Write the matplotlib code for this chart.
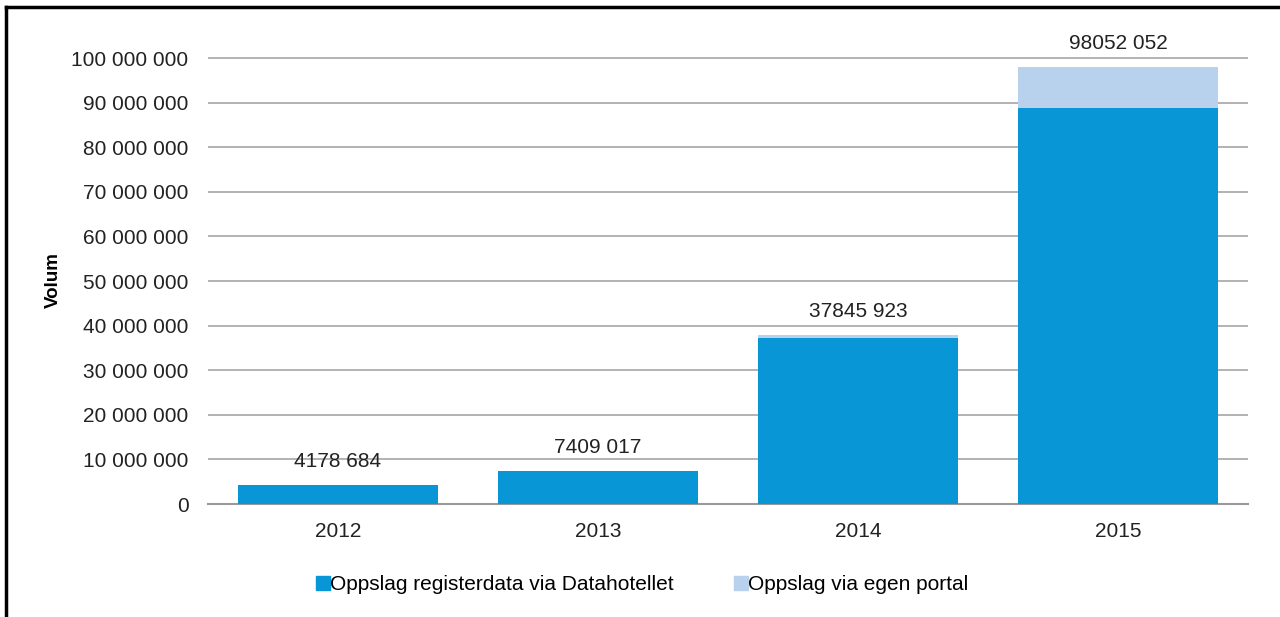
import matplotlib
matplotlib.use("Agg")
import matplotlib.pyplot as plt
from matplotlib.ticker import FuncFormatter
from matplotlib.lines import Line2D

plt.rcParams['font.family'] = ['Liberation Sans', 'DejaVu Sans']

years = ['2012', '2013', '2014', '2015']
datahotellet = [4178684, 7409017, 37245923, 88700000]
egen_portal = [0, 0, 600000, 9352052]
totals = [4178684, 7409017, 37845923, 98052052]

dark = '#0896D6'
light = '#B8D1EC'

fig = plt.figure(figsize=(12.8, 6.17), dpi=100)
ax = fig.add_axes([208/1280, 1-504/617, 1040/1280, (504-40)/617])

x = range(len(years))
ax.bar(x, datahotellet, 0.77, color=dark, label='Oppslag registerdata via Datahotellet', zorder=3)
ax.bar(x, egen_portal, 0.77, bottom=datahotellet, color=light, label='Oppslag via egen portal', zorder=3)

def fmt_label(v):
    return f"{v // 1000} {v % 1000:03d}"

for i, t in enumerate(totals):
    ax.annotate(fmt_label(t), (i, t), xytext=(0, 10), textcoords='offset points',
                ha='center', va='bottom', fontsize=15, color='#222222')

ax.set_xlim(-0.5, 3.5)
ax.set_ylim(0, 100000000 * (504-40)/446)
ax.set_yticks(range(0, 100000001, 10000000))
ax.yaxis.set_major_formatter(FuncFormatter(lambda v, p: f"{int(v):,}".replace(',', ' ')))
ax.set_xticks(list(x))
ax.set_xticklabels(years)
ax.tick_params(axis='both', length=0, labelsize=15, colors='#222222')
ax.tick_params(axis='y', pad=14)
ax.tick_params(axis='x', pad=13)
ax.grid(axis='y', color='#A6A6A6', linewidth=1.2, zorder=0)
for s in ['top', 'right', 'left']:
    ax.spines[s].set_visible(False)
ax.spines['bottom'].set_color('#999999')
ax.spines['bottom'].set_linewidth(1.5)
ax.set_ylabel('Volum', fontsize=13.5, fontweight='bold')
ax.yaxis.set_label_coords(-146/1040, (504-280)/464)

handles = [Line2D([], [], marker='s', linestyle='', color=dark, markersize=10),
           Line2D([], [], marker='s', linestyle='', color=light, markersize=10)]
fig.legend(handles, ['Oppslag registerdata via Datahotellet', 'Oppslag via egen portal'],
           loc='center', bbox_to_anchor=(642/1280, 1-585/617), ncol=2, frameon=False,
           fontsize=15, handletextpad=0.0, columnspacing=2.9, handlelength=0.7)

# frame lines at top and left of the picture
fig.add_artist(Line2D([6/1280, 6/1280], [0, 1-7/617], color='black', linewidth=2.5))
fig.add_artist(Line2D([6/1280, 1], [1-7/617, 1-7/617], color='black', linewidth=2.5))

fig.savefig('out.png', dpi=100)
